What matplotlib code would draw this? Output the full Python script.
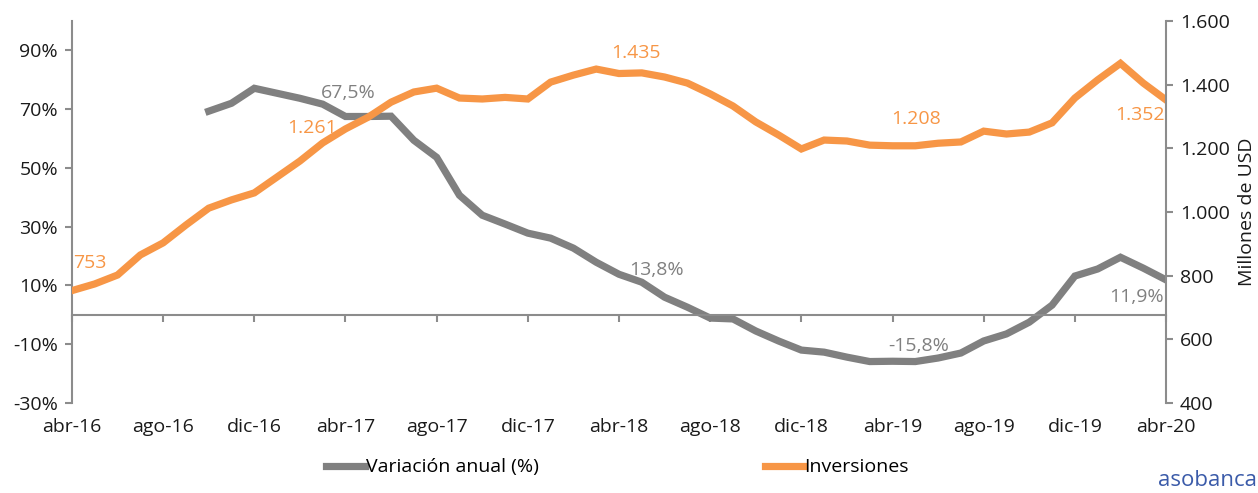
import matplotlib
matplotlib.use('Agg')
import matplotlib.pyplot as plt
import numpy as np

plt.rcParams['font.family'] = ['Open Sans', 'DejaVu Sans']

# monthly series, abr-16 .. abr-20
months = np.arange(49)
tick_labels = ['abr-16', 'ago-16', 'dic-16', 'abr-17', 'ago-17', 'dic-17', 'abr-18',
               'ago-18', 'dic-18', 'abr-19', 'ago-19', 'dic-19', 'abr-20']

inversiones = [753, 774, 802, 865, 903, 959, 1012, 1038, 1060, 1110, 1160, 1217,
               1261, 1298, 1345, 1377, 1389, 1358, 1355, 1360, 1355, 1408, 1430, 1449,
               1435, 1437, 1424, 1405, 1371, 1333, 1283, 1242, 1198, 1226, 1223, 1210,
               1208, 1208, 1216, 1220, 1254, 1245, 1251, 1280, 1358, 1415, 1467, 1405,
               1352]

variacion = [np.nan] * 6 + [
    69.3, 72.0, 77.1, 75.4, 73.7, 71.7,
    67.5, 67.5, 67.6, 59.4, 53.6, 40.7, 33.9, 30.9, 27.8, 26.1, 22.7, 17.9,
    13.8, 11.1, 6.0, 2.6, -1.1, -1.4, -5.5, -8.9, -12.0, -12.7, -14.4, -15.9,
    -15.8, -15.9, -14.7, -13.0, -8.9, -6.5, -2.5, 3.3, 13.2, 15.6, 19.6, 15.9,
    11.9]

gray = '#808080'
orange = '#F79646'
txt = '#1a1a1a'
fs = 14

fig = plt.figure(figsize=(12.58, 4.93), dpi=100)
ax = fig.add_axes([0.0572, 0.1826, 0.8697, 0.7748])
ax2 = ax.twinx()

l1, = ax.plot(months, variacion, color=gray, lw=5.2, solid_joinstyle='miter',
              label='Variación anual (%)')
l2, = ax2.plot(months, inversiones, color=orange, lw=5.2, solid_joinstyle='miter',
               label='Inversiones')

ax.set_xlim(0, 48)
ax.set_ylim(-30, 100)
ax2.set_ylim(400, 1600)

ax.set_yticks(np.arange(-30, 91, 20))
ax.set_yticklabels([f'{v}%' for v in range(-30, 91, 20)])
ax2.set_yticks(np.arange(400, 1601, 200))
ax2.set_yticklabels([f'{v:,}'.replace(',', '.') for v in range(400, 1601, 200)])
ax.set_xticks(np.arange(0, 49, 4))
ax.set_xticklabels(tick_labels)

for a in (ax, ax2):
    a.spines['top'].set_visible(False)
    for s in a.spines.values():
        s.set_color('#8c8c8c')
        s.set_linewidth(1.5)
ax.spines['right'].set_visible(False)
ax2.spines['left'].set_visible(False)
ax2.spines['bottom'].set_visible(False)
ax.spines['bottom'].set_position(('data', 0))

ax.tick_params(axis='y', colors='#8c8c8c', labelcolor=txt, labelsize=fs, length=5, width=1.5, pad=5)
ax2.tick_params(axis='y', colors='#8c8c8c', labelcolor=txt, labelsize=fs, length=5, width=1.5, pad=5)
ax.tick_params(axis='x', colors='#8c8c8c', labelcolor=txt, labelsize=fs, length=5, width=1.5, pad=69)

ax2.set_ylabel('Millones de USD', fontsize=fs, color=txt, labelpad=6)

# data labels
ann = [
    (ax2, 0, inversiones[0], '753', orange, (13, 20)),
    (ax2, 12, inversiones[12], '1.261', orange, (-24, 1)),
    (ax2, 24, inversiones[24], '1.435', orange, (12, 15)),
    (ax2, 36, inversiones[36], '1.208', orange, (17, 19)),
    (ax2, 48, inversiones[48], '1.352', orange, (-19, -11)),
    (ax, 12, variacion[12], '67,5%', gray, (2, 17)),
    (ax, 24, variacion[24], '13,8%', gray, (27, 3)),
    (ax, 36, variacion[36], '-15,8%', gray, (19, 11)),
    (ax, 48, variacion[48], '11,9%', gray, (-21, -12)),
]
for a, x, y, s, c, off in ann:
    a.annotate(s, (x, y), xytext=off, textcoords='offset points', ha='center',
               va='center', fontsize=fs, color=c)

fig.legend([l1, l2], ['Variación anual (%)', 'Inversiones'], loc='center',
           bbox_to_anchor=(0.491, 0.052), ncol=2, frameon=False, fontsize=fs,
           handlelength=2.0, handletextpad=0.05, columnspacing=11.6)

fig.text(0.999, 0.005, 'asobanca', color='#3b5ba9', fontsize=16, ha='right', va='bottom')

fig.savefig('out.png', dpi=100)
